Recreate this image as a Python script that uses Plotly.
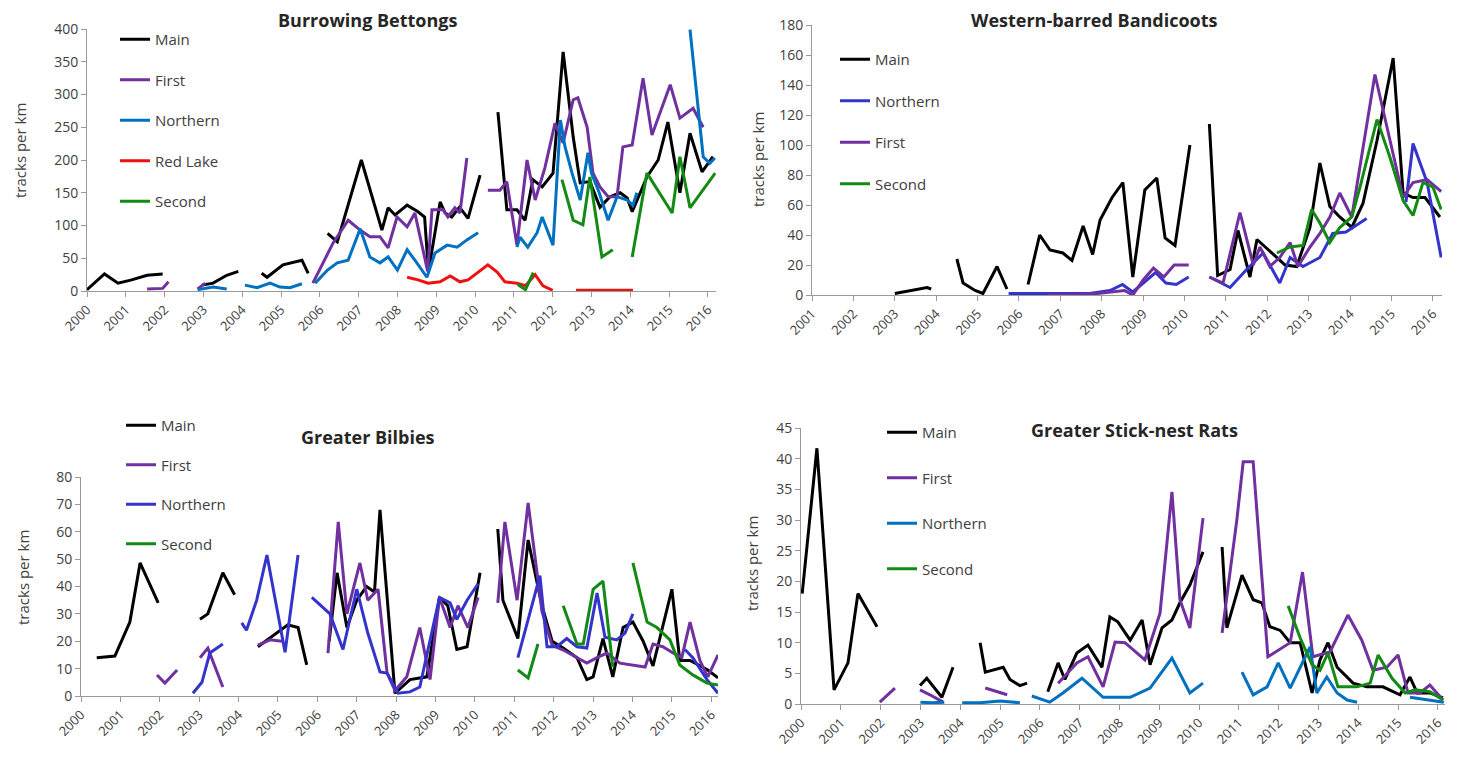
import plotly.graph_objects as go

# ---------------- DATA ----------------
# Burrowing Bettongs
bet_main_x = [2000.0, 2000.45, 2000.8, 2001.15, 2001.55, 2001.95, None, 2002.96, 2003.25, 2003.6, 2003.9, None,
              2004.5, 2004.64, 2005.05, 2005.3, 2005.54, 2005.7, None,
              2006.2, 2006.45, 2007.07, 2007.6, 2007.76, 2007.94, 2008.25, 2008.53, 2008.7, 2008.8, 2009.1, 2009.23,
              2009.4, 2009.6, 2009.82, 2010.13, None,
              2010.59, 2010.82, 2011.08, 2011.29, 2011.49, 2011.73, 2012.01, 2012.27, 2012.53, 2012.71, 2012.96,
              2013.22, 2013.48, 2013.74, 2013.92, 2014.05, 2014.43, 2014.72, 2014.97, 2015.28, 2015.54, 2015.85, 2016.13]
bet_main_y = [2, 26, 12, 17, 24, 26, None, 9, 12, 24, 30, None,
              27, 21, 40, 44, 47, 27, None,
              88, 75, 200, 93, 127, 116, 131, 121, 113, 30, 136, 119,
              113, 128, 111, 177, None,
              273, 124, 124, 108, 170, 159, 180, 365, 235, 165, 167,
              128, 144, 150, 142, 121, 174, 200, 258, 150, 241, 182, 205]

bet_first_x = [2001.55, 2001.95, 2002.1, None, 2002.85, 2003.05, None,
               2005.82, 2006.34, 2006.73, 2007.04, 2007.29, 2007.55, 2007.76, 2007.99, 2008.25, 2008.45, 2008.78,
               2008.89, 2009.18, 2009.3, 2009.48, 2009.61, 2009.79, None,
               2010.33, 2010.64, 2010.82, 2011.08, 2011.34, 2011.55, 2011.8, 2012.06, 2012.27, 2012.53, 2012.65,
               2012.89, 2013.04, 2013.22, 2013.43, 2013.66, 2013.81, 2014.05, 2014.33, 2014.56, 2015.03, 2015.28,
               2015.62, 2015.88]
bet_first_y = [3, 4, 14, None, 3, 12, None,
               12, 73, 108, 93, 83, 83, 66, 113, 98, 119, 30,
               124, 124, 113, 127, 119, 203, None,
               154, 154, 167, 70, 200, 139, 188, 256, 226, 292, 295,
               250, 180, 159, 144, 144, 220, 223, 325, 238, 315, 264,
               279, 250]

bet_north_x = [2002.85, 2003.25, 2003.6, None, 2004.07, 2004.38, 2004.72, 2004.97, 2005.23, 2005.54, None,
               2005.88, 2006.2, 2006.45, 2006.73, 2007.04, 2007.29, 2007.55, 2007.76, 2008.0, 2008.25, 2008.45,
               2008.76, 2008.97, 2009.28, 2009.54, 2009.79, 2010.08, None,
               2011.08, 2011.16, 2011.36, 2011.6, 2011.73, 2012.01, 2012.2, 2012.32, 2012.5, 2012.71, 2012.91,
               2013.0, 2013.2, 2013.43, 2013.66, 2013.92, 2014.07, 2014.17, None,
               2015.54, 2015.88, 2016.05, 2016.18]
bet_north_y = [2, 6, 3, None, 9, 5, 12, 6, 5, 11, None,
               12, 32, 43, 47, 95, 52, 43, 52, 32, 63, 47,
               21, 58, 70, 67, 78, 89, None,
               67, 82, 67, 89, 113, 70, 261, 220, 180, 139, 211,
               180, 150, 108, 144, 139, 131, 150, None,
               399, 205, 195, 203]

bet_red_x = [2008.25, 2008.53, 2008.79, 2009.1, 2009.36, 2009.61, 2009.82, 2010.08, 2010.33, 2010.57, 2010.77,
             2011.08, 2011.3, 2011.55, 2011.75, 2012.0, None, 2012.6, 2013.0, 2013.5, 2014.07]
bet_red_y = [21, 17, 12, 14, 23, 14, 17, 29, 40, 29, 14,
             12, 8, 25, 8, 1, None, 1, 1, 1, 1]

bet_second_x = [2011.1, 2011.3, 2011.5, None, 2012.24, 2012.53, 2012.78, 2012.96, 2013.27, 2013.55, None,
                2014.05, 2014.43, 2015.08, 2015.28, 2015.54, 2016.19]
bet_second_y = [10, 2, 28, None, 170, 108, 101, 174, 52, 63, None,
                52, 180, 119, 205, 127, 180]

# Western-barred Bandicoots
ban_main_x = [2003.0, 2003.4, 2003.78, 2003.88, None, 2004.5, 2004.65, 2004.94, 2005.13, 2005.47, 2005.71, None,
              2006.22, 2006.5, 2006.75, 2007.06, 2007.28, 2007.55, 2007.78, 2007.96, 2008.25, 2008.51, 2008.75,
              2009.04, 2009.33, 2009.53, 2009.77, 2010.13, None,
              2010.6, 2010.8, 2011.1, 2011.29, 2011.58, 2011.75, 2011.99, 2012.23, 2012.43, 2012.71, 2013.03,
              2013.27, 2013.51, 2013.75, 2014.04, 2014.31, 2014.65, 2015.04, 2015.28, 2015.52, 2015.81, 2016.17]
ban_main_y = [1, 3, 5, 4, None, 24, 8, 3, 1, 19, 4, None,
              7, 40, 30, 28, 23, 46, 27, 50, 65, 75, 12,
              70, 78, 38, 33, 100, None,
              114, 13, 17, 43, 12, 37, 31, 25, 20, 19, 45,
              88, 59, 52, 45, 61, 103, 158, 68, 65, 65, 52]

ban_north_x = [2005.75, 2006.25, 2006.75, 2007.25, 2007.71, 2008.2, 2008.5, 2008.75, 2009.0, 2009.3, 2009.55,
               2009.8, 2010.1, None,
               2010.6, 2011.1, 2011.5, 2011.9, 2012.3, 2012.55, 2012.86, 2013.27, 2013.58, 2013.9, 2014.4, None,
               2015.35, 2015.52, 2015.86, 2016.2]
ban_north_y = [1, 1, 0.5, 0.5, 1, 3, 7, 2, 8, 15, 8,
               7, 12, None,
               12, 5, 17, 28, 8, 25, 19, 25, 41, 42, 51, None,
               62, 101, 75, 25]

ban_first_x = [2006.7, 2007.3, 2007.9, 2008.3, 2008.55, 2008.75, 2009.0, 2009.25, 2009.5, 2009.75, 2010.1, None,
               2010.6, 2010.93, 2011.34, 2011.66, 2011.82, 2012.06, 2012.3, 2012.55, 2012.74, 2013.03, 2013.27,
               2013.51, 2013.75, 2014.04, 2014.6, 2015.28, 2015.52, 2015.86, 2016.2]
ban_first_y = [0, 0, 1, 2, 3, 0, 10, 18, 12, 20, 20, None,
               12, 8, 55, 20, 32, 19, 25, 35, 19, 32, 41,
               52, 68, 52, 147, 65, 75, 77, 69]

ban_second_x = [2012.23, 2012.55, 2012.86, 2013.07, 2013.27, 2013.51, 2013.75, 2014.04, 2014.24, 2014.65,
                2014.96, 2015.28, 2015.52, 2015.76, 2016.0, 2016.2]
ban_second_y = [28, 32, 33, 57, 48, 35, 45, 52, 72, 117,
                92, 63, 53, 75, 72, 57]

# Greater Bilbies
bil_main_x = [2000.4, 2000.86, 2001.24, 2001.5, 2001.96, None, 2003.02, 2003.22, 2003.6, 2003.9, None,
              2004.49, 2004.97, 2005.25, 2005.51, 2005.73, None,
              2006.3, 2006.5, 2006.75, 2007.0, 2007.25, 2007.45, 2007.59, 2007.97, 2008.35, 2008.78, 2009.1,
              2009.31, 2009.54, 2009.8, 2010.13, None,
              2010.58, 2010.71, 2011.09, 2011.35, 2011.7, 2011.96, 2012.24, 2012.59, 2012.84, 2013.0, 2013.25,
              2013.5, 2013.76, 2014.01, 2014.27, 2014.52, 2015.0, 2015.2, 2015.46, 2015.71, 2015.91, 2016.17]
bil_main_y = [14, 14.6, 27, 48.6, 34, None, 28, 30, 45, 37, None,
              18, 23, 26, 25, 11.4, None,
              20, 45, 25, 35, 40, 38, 68, 1, 6, 7, 36,
              33, 17, 18, 45, None,
              61, 35, 21, 57, 33, 20, 17.5, 14, 6, 7, 21,
              7, 25, 27, 20, 11, 39, 13, 13, 11, 9.5, 6.6]

bil_first_x = [2001.93, 2002.13, 2002.44, None, 2003.02, 2003.22, 2003.6, None, 2004.49, 2004.8, 2005.1, None,
               2006.27, 2006.53, 2006.75, 2007.08, 2007.28, 2007.54, 2007.77, 2007.97, 2008.27, 2008.6, 2008.86,
               2009.1, 2009.37, 2009.57, 2009.82, 2010.08, None,
               2010.58, 2010.76, 2011.07, 2011.35, 2011.7, 2011.96, 2012.24, 2012.59, 2012.84, 2013.1, 2013.35,
               2013.68, 2014.01, 2014.32, 2014.52, 2014.77, 2015.03, 2015.25, 2015.46, 2015.71, 2015.91, 2016.17]
bil_first_y = [7.7, 4.7, 9.5, None, 14, 17.5, 3.3, None, 18.6, 20.5, 20, None,
               15.7, 63.6, 30, 48.6, 35, 39, 8.4, 2, 7, 25, 6,
               36, 25, 33, 25, 36, None,
               34, 63.6, 35, 70.5, 31, 18.6, 16.8, 14, 12, 14, 15.7,
               12, 11.3, 10.6, 19, 18, 15.7, 14, 27, 13, 7, 15]

bil_north_x = [2002.84, 2003.07, 2003.27, 2003.6, None, 2004.08, 2004.2, 2004.46, 2004.72, 2005.18, 2005.51, None,
               2005.86, 2006.32, 2006.65, 2007.0, 2007.28, 2007.59, 2007.77, 2008.05, 2008.35, 2008.6, 2009.1,
               2009.37, 2009.54, 2009.8, 2010.08, None,
               2011.09, 2011.35, 2011.65, 2011.83, 2012.08, 2012.33, 2012.59, 2012.84, 2013.1, 2013.3, 2013.6,
               2013.81, 2014.01, None, 2015.33, 2015.53, 2015.89, 2016.17]
bil_north_y = [1, 5, 15.7, 19, None, 26.7, 24, 35, 51.5, 16, 51.5, None,
               36, 30, 17, 39, 23, 8.8, 8.4, 1, 1.5, 3.3, 36,
               34, 28, 35, 41, None,
               14, 28, 44, 18, 18, 21, 18, 17.5, 37.6, 21.5, 20.5,
               23, 30, None, 17, 14, 6, 1]

bil_second_x = [2011.09, 2011.35, 2011.6, None, 2012.24, 2012.59, 2012.75, 2013.0, 2013.25, 2013.5, None,
                2014.01, 2014.37, 2014.62, 2014.95, 2015.2, 2015.53, 2015.89, 2016.17]
bil_second_y = [9.5, 6.6, 19, None, 33, 19, 19, 39, 42, 10.6, None,
                48.6, 27, 25, 20.5, 11.3, 7.7, 4.7, 4]

# Greater Stick-nest Rats
rat_main_x = [2000.03, 2000.4, 2000.83, 2001.18, 2001.43, 2001.91, None, 2002.99, 2003.16, 2003.54, 2003.82, None,
              2004.5, 2004.63, 2005.08, 2005.25, 2005.5, 2005.68, None,
              2006.2, 2006.46, 2006.63, 2006.93, 2007.21, 2007.56, 2007.76, 2007.96, 2008.27, 2008.57, 2008.77,
              2009.07, 2009.32, 2009.52, 2009.77, 2010.1, None,
              2010.58, 2010.7, 2011.08, 2011.36, 2011.58, 2011.78, 2012.04, 2012.29, 2012.54, 2012.84, 2013.04,
              2013.24, 2013.47, 2013.87, 2014.22, 2014.62, 2015.05, 2015.3, 2015.48, 2015.8, 2016.13]
rat_main_y = [18, 41.7, 2.3, 6.7, 18, 12.6, None, 3, 4.2, 1.1, 6, None,
              10, 5.2, 6, 4, 3, 3.4, None,
              2, 6.7, 4, 8.3, 9.6, 6, 14.2, 13.4, 10.4, 13.7, 6.4,
              12.4, 13.7, 16.5, 19.4, 24.8, None,
              25.6, 12.4, 21, 17, 16.5, 12.6, 12, 10, 10, 1.8, 7.2,
              10, 6, 3.4, 2.8, 2.8, 1.5, 4.4, 1.8, 1.8, 1]

rat_first_x = [2001.98, 2002.36, None, 2002.99, 2003.24, 2003.57, None, 2004.63, 2005.18, None,
               2006.46, 2006.93, 2007.21, 2007.59, 2007.89, 2008.14, 2008.64, 2009.02, 2009.32, 2009.52, 2009.77,
               2010.1, None,
               2010.58, 2010.95, 2011.11, 2011.36, 2011.73, 2012.29, 2012.6, 2012.86, 2013.29, 2013.74, 2014.09,
               2014.37, 2014.72, 2015.0, 2015.25, 2015.55, 2015.8, 2016.13]
rat_first_y = [0.3, 2.6, None, 2.3, 1.5, 0.3, None, 2.6, 1.5, None,
               3.4, 6.7, 7.7, 2.8, 10.1, 10, 7.2, 14.8, 34.6, 17, 12.4,
               30.3, None,
               11.6, 30, 39.5, 39.5, 7.7, 10, 21.5, 7.7, 8.5, 14.5, 10.4,
               5.5, 6, 8, 1.8, 1.8, 3.1, 0.65]

rat_north_x = [2003.0, 2003.3, 2003.6, None, 2004.05, 2004.5, 2005.0, 2005.5, None,
               2005.8, 2006.25, 2006.58, 2007.06, 2007.59, 2008.27, 2008.77, 2009.32, 2009.77, 2010.1, None,
               2011.08, 2011.36, 2011.71, 2011.99, 2012.29, 2012.54, 2012.79, 2012.96, 2013.21, 2013.47, 2013.72,
               2013.97, None, 2015.3, 2015.6, 2015.9, 2016.15]
rat_north_y = [0.3, 0.2, 0.3, None, 0.2, 0.2, 0.5, 0.2, None,
               1.3, 0.3, 1.8, 4.2, 1.1, 1.1, 2.6, 7.5, 1.8, 3.4, None,
               5.2, 1.5, 2.8, 6.7, 2.6, 6, 9.3, 1.8, 4.4, 1.8, 0.65,
               0.3, None, 1.1, 0.8, 0.5, 0.3]

rat_second_x = [2012.24, 2012.54, 2012.84, 2013.04, 2013.24, 2013.49, 2013.97, 2014.3, 2014.5, 2014.85,
                2015.18, 2015.43, 2015.8, 2016.13]
rat_second_y = [16, 10.8, 6.4, 5.5, 8.3, 2.8, 2.8, 3.4, 8, 4.2,
                1.8, 2.3, 2, 0.65]

titles = ["Burrowing Bettongs", "Western-barred Bandicoots", "Greater Bilbies", "Greater Stick-nest Rats"]
y_title = "tracks per km"

# ---------------- STYLE ----------------
W, H = 1458, 764
FONT = "Open Sans"
TXT = "#404040"
AXC = "#9a9a9a"
C_MAIN = "#000000"
C_FIRST = "#7030A0"
C_NORTH_A = "#0070C0"
C_NORTH_B = "#3434CC"
C_RED = "#EE1111"
C_SECOND = "#138A13"
LW = 3


def fx(p):
    return p / W


def fy(p):
    return 1 - p / H


fig = go.Figure()

panels = [
    ("", "legend", [("Main", bet_main_x, bet_main_y, C_MAIN), ("First", bet_first_x, bet_first_y, C_FIRST),
                    ("Northern", bet_north_x, bet_north_y, C_NORTH_A), ("Red Lake", bet_red_x, bet_red_y, C_RED),
                    ("Second", bet_second_x, bet_second_y, C_SECOND)]),
    ("2", "legend2", [("Main", ban_main_x, ban_main_y, C_MAIN), ("Northern", ban_north_x, ban_north_y, C_NORTH_B),
                      ("First", ban_first_x, ban_first_y, C_FIRST), ("Second", ban_second_x, ban_second_y, C_SECOND)]),
    ("3", "legend3", [("Main", bil_main_x, bil_main_y, C_MAIN), ("First", bil_first_x, bil_first_y, C_FIRST),
                      ("Northern", bil_north_x, bil_north_y, C_NORTH_B), ("Second", bil_second_x, bil_second_y, C_SECOND)]),
    ("4", "legend4", [("Main", rat_main_x, rat_main_y, C_MAIN), ("First", rat_first_x, rat_first_y, C_FIRST),
                      ("Northern", rat_north_x, rat_north_y, C_NORTH_A), ("Second", rat_second_x, rat_second_y, C_SECOND)]),
]

for suf, leg, series in panels:
    for name, xs, ys, col in series:
        fig.add_trace(go.Scatter(
            x=xs, y=ys, mode="lines", name=name,
            line=dict(color=col, width=LW),
            xaxis="x" + suf, yaxis="y" + suf,
            legend=leg, legendgroup=leg + name,
            cliponaxis=False, hoverinfo="skip",
        ))


def xaxis(dom, rng, tick0, anchor):
    return dict(domain=dom, range=rng, anchor=anchor, showgrid=False, zeroline=False, automargin=False,
                showline=True, linecolor=AXC, linewidth=1, ticks="outside", ticklen=5,
                tickcolor=AXC, tickangle=-45, tickmode="linear", tick0=tick0, dtick=1,
                tickformat="d", tickfont=dict(family=FONT, size=13, color=TXT), fixedrange=True)


def yaxis(dom, rng, dtick, anchor):
    return dict(domain=dom, range=rng, anchor=anchor, showgrid=False, zeroline=False, automargin=False,
                showline=True, linecolor=AXC, linewidth=1, ticks="outside", ticklen=5,
                tickcolor=AXC, tickmode="linear", tick0=0, dtick=dtick,
                tickfont=dict(family=FONT, size=14, color=TXT), fixedrange=True)


def legend(xp, yp, gap):
    return dict(x=fx(xp), y=fy(yp), xanchor="left", yanchor="top", bgcolor="rgba(0,0,0,0)",
                font=dict(family=FONT, size=15, color=TXT), tracegroupgap=gap, itemwidth=30,
                borderwidth=0)


annotations = []
for txt, (cx, cy) in zip(titles, [(368, 20), (1094, 20), (368, 437), (1134, 430)]):
    annotations.append(dict(text="<b>" + txt + "</b>", x=fx(cx), y=fy(cy), xref="paper", yref="paper",
                            showarrow=False, xanchor="center", yanchor="middle",
                            font=dict(family=FONT, size=18, color="#262626")))
for (cx, cy) in [(20, 151), (758, 160), (23, 577), (752, 563)]:
    annotations.append(dict(text=y_title, x=fx(cx), y=fy(cy), xref="paper", yref="paper",
                            showarrow=False, xanchor="center", yanchor="middle", textangle=-90,
                            font=dict(family=FONT, size=15, color=TXT)))

fig.update_layout(
    width=W, height=H, margin=dict(l=0, r=0, t=0, b=0, autoexpand=False),
    paper_bgcolor="white", plot_bgcolor="white",
    showlegend=True,
    xaxis=xaxis([fx(87), fx(716)], [2000, 2016.21], 2000, "y"),
    yaxis=yaxis([fy(291), fy(29)], [0, 400], 50, "x"),
    xaxis2=xaxis([fx(812), fx(1442)], [2001, 2016.22], 2001, "y2"),
    yaxis2=yaxis([fy(295), fy(25)], [0, 180], 20, "x2"),
    xaxis3=xaxis([fx(81), fx(718)], [2000, 2016.17], 2000, "y3"),
    yaxis3=yaxis([fy(696), fy(477)], [0, 80], 10, "x3"),
    xaxis4=xaxis([fx(801), fx(1445)], [2000, 2016.18], 2000, "y4"),
    yaxis4=yaxis([fy(704), fy(428)], [0, 45], 5, "x4"),
    legend=legend(115, 23, 18),
    legend2=legend(835, 43, 19),
    legend3=legend(121, 409, 17),
    legend4=legend(882, 416, 23),
    annotations=annotations,
)

fig.write_html("out.html", config={"displayModeBar": False},
               post_script="document.body.style.margin='0';")
